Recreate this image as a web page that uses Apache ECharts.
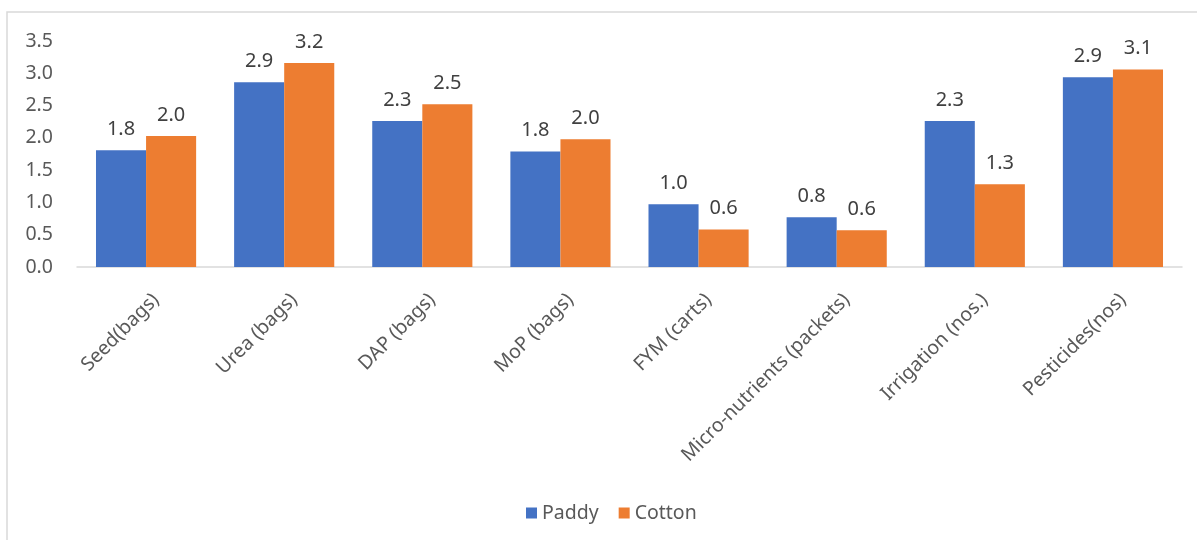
<!DOCTYPE html>
<html>
<head>
<meta charset="utf-8">
<script src="https://cdn.jsdelivr.net/npm/echarts@6/dist/echarts.min.js"></script>
<style>
html,body{margin:0;padding:0;background:#fff;}
#chart{width:1197px;height:540px;}
</style>
</head>
<body>
<div id="chart"></div>
<script>
const categories = ["Seed(bags)", "Urea (bags)", "DAP (bags)", "MoP (bags)", "FYM (carts)", "Micro-nutrients (packets)", "Irrigation (nos.)", "Pesticides(nos)"];
const paddy = [1.81, 2.86, 2.26, 1.79, 0.97, 0.77, 2.26, 2.94];
const cotton = [2.03, 3.16, 2.52, 1.98, 0.58, 0.57, 1.28, 3.06];
const seriesNames = ["Paddy", "Cotton"];
const colors = ["#4472C4", "#ED7D31"];

const font = "'Noto Sans', 'Open Sans', sans-serif";
const chart = echarts.init(document.getElementById('chart'));
const labelCfg = {
  show: true, position: 'top', distance: 11,
  color: '#404040', fontSize: 20, fontFamily: font,
  formatter: p => p.value.toFixed(1)
};
chart.setOption({
  animation: false,
  color: colors,
  textStyle: {fontFamily: font},
  graphic: [{
    type: 'polyline',
    shape: {points: [[7, 540], [7, 12], [1197, 12]]},
    style: {stroke: '#d9d9d9', lineWidth: 1.5, fill: null}
  }],
  grid: {left: 77, right: 15, top: 41, bottom: 273, containLabel: false},
  legend: {
    data: seriesNames,
    bottom: 17, left: 526, padding: 0,
    itemWidth: 11, itemHeight: 11, itemGap: 20,
    icon: 'rect',
    textStyle: {color: '#595959', fontSize: 19.5, fontFamily: font}
  },
  xAxis: {
    type: 'category',
    data: categories,
    axisLine: {lineStyle: {color: '#d9d9d9', width: 1.5}},
    axisTick: {show: false},
    axisLabel: {rotate: 45, color: '#595959', fontSize: 19.5, fontFamily: font, margin: 20, interval: 0,
      verticalAlign: 'top', lineHeight: 28}
  },
  yAxis: {
    type: 'value', min: 0, max: 3.5, interval: 0.5,
    axisLine: {show: false}, axisTick: {show: false},
    splitLine: {show: false},
    axisLabel: {color: '#595959', fontSize: 19.5, fontFamily: font, margin: 24,
      formatter: v => v.toFixed(1)}
  },
  series: [
    {name: seriesNames[0], type: 'bar', data: paddy, barGap: '0%', barCategoryGap: '27.5%', label: labelCfg},
    {name: seriesNames[1], type: 'bar', data: cotton, barGap: '0%', barCategoryGap: '27.5%', label: labelCfg}
  ]
});
</script>
</body>
</html>
